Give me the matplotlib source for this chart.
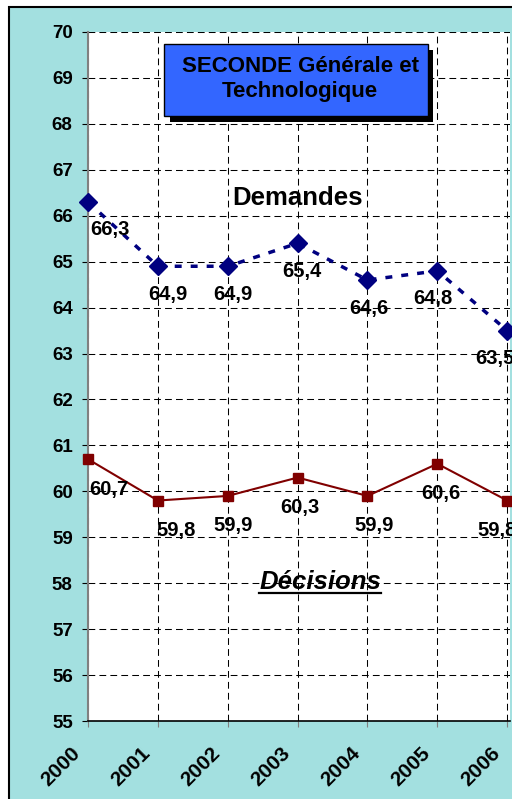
import numpy as np
import matplotlib.pyplot as plt
from matplotlib.patches import Rectangle
from matplotlib.lines import Line2D
from matplotlib.transforms import ScaledTranslation

years = ['2000', '2001', '2002', '2003', '2004', '2005', '2006']
demandes = [66.3, 64.9, 64.9, 65.4, 64.6, 64.8, 63.5]
decisions = [60.7, 59.8, 59.9, 60.3, 59.9, 60.6, 59.8]

# horizontal nudges of the data labels (pixels)
dem_dx = [22, 10, 5, 4, 1, -4, -12]
dec_dx = [21, 18, 5, 2, 7, 4, -10]

plt.rcParams['font.family'] = ['Liberation Sans', 'DejaVu Sans']
plt.rcParams['font.weight'] = 'bold'

W, H = 512, 799
fig = plt.figure(figsize=(W / 100, H / 100), dpi=100)
fig.patch.set_facecolor('white')

def fx(px):
    return px / W

def fy(py):
    return 1 - py / H

# teal frame
fig.patches.append(Rectangle((fx(9), -0.02), 1.1, fy(7) + 0.02, transform=fig.transFigure,
                             facecolor='#a3e0e0', edgecolor='black', lw=1.5, zorder=-1))

ax = fig.add_axes([fx(88), fy(721), fx(510) - fx(88), fy(32) - fy(721)])
ax.set_facecolor('white')
x = np.arange(len(years))

ax.plot(x, demandes, color='#000080', lw=2.5, ls=(0, (2, 2.6)), marker='D', ms=9,
        clip_on=False, zorder=3)
ax.plot(x, decisions, color='#800000', lw=1.5, marker='s', ms=6.5, clip_on=False, zorder=3)

ax.set_xlim(0, 6.04)
ax.set_ylim(55, 70)
ax.set_yticks(range(55, 71))
ax.set_xticks(x)
ax.set_xticklabels(years, rotation=45, ha='right', va='top', rotation_mode='anchor')
ax.grid(True, color='black', ls=(0, (6.5, 4)), lw=0.75)
ax.set_axisbelow(True)

for s in ['top', 'right']:
    ax.spines[s].set_visible(False)
ax.spines['left'].set_color('#808080')
ax.spines['left'].set_linewidth(1.5)
ax.spines['bottom'].set_color('black')
ax.spines['bottom'].set_linewidth(1.2)

ax.tick_params(axis='y', length=4, color='black', labelsize=13.5, pad=7)
ax.tick_params(axis='x', length=4, color='#808080', labelsize=15, pad=12)
for lab in ax.get_xticklabels():
    lab.set_transform(lab.get_transform() + ScaledTranslation(-0.17, 0, fig.dpi_scale_trans))

for i, v in enumerate(demandes):
    ax.annotate(f'{v:.1f}'.replace('.', ','), (i, v), xytext=(dem_dx[i] * 0.72, -28 * 0.72),
                textcoords='offset points', ha='center', va='center', fontsize=14.5,
                fontweight='bold', annotation_clip=False, zorder=5)
for i, v in enumerate(decisions):
    ax.annotate(f'{v:.1f}'.replace('.', ','), (i, v), xytext=(dec_dx[i] * 0.72, -30 * 0.72),
                textcoords='offset points', ha='center', va='center', fontsize=14.5,
                fontweight='bold', annotation_clip=False, zorder=5)

# title box with shadow
fig.patches.append(Rectangle((fx(170), fy(122)), fx(433) - fx(170), fy(50) - fy(122),
                             transform=fig.transFigure, facecolor='black', lw=0, zorder=4))
fig.patches.append(Rectangle((fx(164), fy(116)), fx(428) - fx(164), fy(44) - fy(116),
                             transform=fig.transFigure, facecolor='#3366ff', edgecolor='black',
                             lw=1, zorder=5))
fig.text(fx(300), fy(79), 'SECONDE Générale et\nTechnologique', ha='center', va='center',
         fontsize=16, fontweight='bold', linespacing=1.3, zorder=6)

fig.text(fx(297), fy(198), 'Demandes', ha='center', va='center', fontsize=18.5,
         fontweight='bold', zorder=6)
fig.text(fx(320), fy(582), 'Décisions', ha='center', va='center', fontsize=18.5,
         fontweight='bold', style='italic', zorder=6)
fig.lines.append(Line2D([fx(259), fx(381)], [fy(593), fy(593)], transform=fig.transFigure,
                        color='black', lw=1.6, zorder=6))

fig.savefig('out.png', dpi=100)
